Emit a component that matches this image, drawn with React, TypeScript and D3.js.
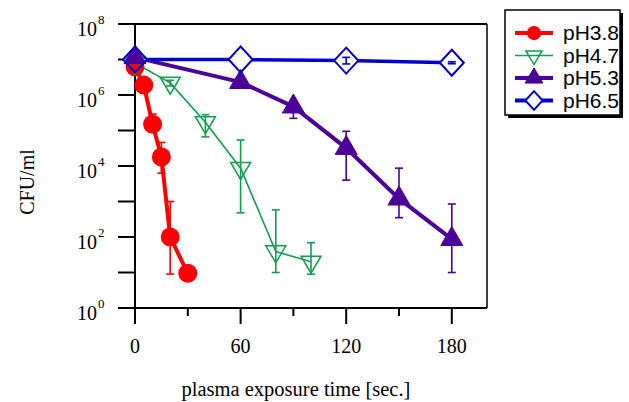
import React from "react";
import * as d3 from "d3";

const W = 629;
const H = 402;

// Data (time in seconds, CFU/ml)
const tRed = [0, 5, 10, 15, 20, 30];
const vRed = [6.2e6, 1.9e6, 1.5e5, 1.8e4, 1.0e2, 9.5];
const hiRed = [null, null, 2.9e5, 4.6e4, 1.0e3, null];
const loRed = [null, null, 1.0e5, 6.3e3, 9, null];

const tGreen = [0, 20, 40, 60, 80, 100];
const vGreen = [8.0e6, 2.2e6, 1.7e5, 8.7e3, 39, 20];
const hiGreen = [null, 2.6e6, 2.8e5, 5.4e4, 5.8e2, 69];
const loGreen = [null, 1.8e6, 6.6e4, 4.8e2, 10, 9];

const tPurple = [0, 60, 90, 120, 150, 180];
const vPurple = [1.15e7, 2.3e6, 4.7e5, 3.2e4, 1.2e3, 87];
const hiPurple = [null, null, 5.5e5, 9.5e4, 8.7e3, 8.5e2];
const loPurple = [null, null, 2.2e5, 4.0e3, 3.5e2, 10];

const tBlue = [0, 60, 120, 180];
const vBlue = [1.0e7, 1.0e7, 9.3e6, 8.1e6];
const hiBlue = [null, null, 1.15e7, 8.6e6];
const loBlue = [null, null, 7.5e6, 7.6e6];

const seriesNames = ["pH3.8", "pH4.7", "pH5.3", "pH6.5"];
const xMajorTicks = [0, 60, 120, 180];
const xMinorTicks = [30, 90, 150];
const yExponents = [0, 1, 2, 3, 4, 5, 6, 7, 8];
const yLabelExponents = [0, 2, 4, 6, 8];

const RED = "#ff0000";
const GREEN = "#119f4f";
const PURPLE = "#4b0099";
const BLUE = "#0000cc";

const left = 135, right = 487, top = 24, bottom = 308;
const x = d3.scaleLinear().domain([0, 200]).range([left, right]);
const y = d3.scaleLog().domain([1, 1e8]).range([bottom, top]);

type S = { name: string; t: number[]; v: number[]; hi: (number | null)[]; lo: (number | null)[]; color: string; lw: number; marker: string };

const series: S[] = [
  { name: seriesNames[0], t: tRed, v: vRed, hi: hiRed, lo: loRed, color: RED, lw: 4, marker: "circle" },
  { name: seriesNames[1], t: tGreen, v: vGreen, hi: hiGreen, lo: loGreen, color: GREEN, lw: 1.6, marker: "down" },
  { name: seriesNames[2], t: tPurple, v: vPurple, hi: hiPurple, lo: loPurple, color: PURPLE, lw: 4, marker: "up" },
  { name: seriesNames[3], t: tBlue, v: vBlue, hi: hiBlue, lo: loBlue, color: BLUE, lw: 3.5, marker: "diamond" },
];

function Marker({ kind, cx, cy, color, scale = 1, part = "all" }: { kind: string; cx: number; cy: number; color: string; scale?: number; part?: string }) {
  if (kind === "circle") {
    return <circle cx={cx} cy={cy} r={9.5 * scale} fill={color} />;
  }
  if (kind === "down") {
    const w = 10 * scale, h = 17 * scale;
    const pts = `${cx - w},${cy - h / 3} ${cx + w},${cy - h / 3} ${cx},${cy + (2 * h) / 3}`;
    return <polygon points={pts} fill="none" stroke={color} strokeWidth={1.5} />;
  }
  if (kind === "up") {
    const w = 11 * scale, h = 19 * scale;
    const pts = `${cx - w},${cy + h / 3} ${cx + w},${cy + h / 3} ${cx},${cy - (2 * h) / 3}`;
    return <polygon points={pts} fill={color} stroke={color} strokeWidth={1} />;
  }
  const w = 12 * scale, h = 13 * scale;
  const pts = `${cx},${cy - h} ${cx + w},${cy} ${cx},${cy + h} ${cx - w},${cy}`;
  if (part === "fill") return <polygon points={pts} fill="#fff" stroke="none" />;
  if (part === "stroke") return <polygon points={pts} fill="none" stroke={color} strokeWidth={2} />;
  return <polygon points={pts} fill="#fff" stroke={color} strokeWidth={2} />;
}

export default function App() {
  const line = d3.line<[number, number]>().x((d) => x(d[0])).y((d) => y(d[1]));
  const serif = "'Liberation Serif', 'Times New Roman', serif";
  const sans = "'Liberation Sans', Arial, sans-serif";
  const blue = series[3];
  return (
    <svg width={W} height={H} style={{ position: "absolute", left: 0, top: 0, background: "#fff" }}>
      <rect x={0} y={0} width={W} height={H} fill="#fff" />
      {/* frame */}
      <line x1={left} y1={top} x2={right} y2={top} stroke="#000" strokeWidth={2} />
      <line x1={right} y1={top} x2={right} y2={bottom} stroke="#000" strokeWidth={1.5} />
      <line x1={left} y1={bottom} x2={right} y2={bottom} stroke="#000" strokeWidth={2} />
      <line x1={left} y1={top} x2={left} y2={bottom + 16} stroke="#000" strokeWidth={2} />
      {/* y ticks */}
      {yExponents.map((e) => (
        <line key={e} x1={left - 17} x2={left} y1={y(Math.pow(10, e))} y2={y(Math.pow(10, e))} stroke="#000" strokeWidth={2} />
      ))}
      {yLabelExponents.map((e) => (
        <text key={e} x={77} y={y(Math.pow(10, e)) + 12} fontFamily={serif} fontSize={20} fill="#000">
          10<tspan fontSize={13} dy={-12} dx={1}>{e}</tspan>
        </text>
      ))}
      {/* x ticks */}
      {xMajorTicks.map((t) => (
        <line key={t} x1={x(t)} x2={x(t)} y1={bottom} y2={bottom + 16} stroke="#000" strokeWidth={2} />
      ))}
      {xMinorTicks.map((t) => (
        <line key={t} x1={x(t)} x2={x(t)} y1={bottom} y2={bottom + 8} stroke="#000" strokeWidth={2} />
      ))}
      {xMajorTicks.map((t) => (
        <text key={t} x={x(t)} y={353} textAnchor="middle" fontFamily={serif} fontSize={20} fill="#000">{t}</text>
      ))}
      <text x={296} y={396} textAnchor="middle" fontFamily={serif} fontSize={20.5} fill="#000">plasma exposure time [sec.]</text>
      <text transform="translate(34,182) rotate(-90)" textAnchor="middle" fontFamily={serif} fontSize={20} fill="#000">CFU/ml</text>

      {/* lines */}
      {series.map((s) => (
        <path key={s.name} d={line(s.t.map((t, i) => [t, s.v[i]] as [number, number])) || ""} fill="none" stroke={s.color} strokeWidth={s.lw} strokeLinejoin="round" />
      ))}
      {/* blue diamond fills */}
      {blue.t.map((t, i) => (
        <Marker key={"bf" + i} kind="diamond" cx={x(t)} cy={y(blue.v[i])} color={blue.color} part="fill" />
      ))}
      {series.slice(0, 3).map((s) =>
        s.t.map((t, i) => <Marker key={s.name + i} kind={s.marker} cx={x(t)} cy={y(s.v[i])} color={s.color} />)
      )}
      {blue.t.map((t, i) => (
        <Marker key={"bs" + i} kind="diamond" cx={x(t)} cy={y(blue.v[i])} color={blue.color} part="stroke" />
      ))}
      {/* error bars */}
      {series.map((s) =>
        s.t.map((t, i) => {
          const hi = s.hi[i];
          const lo = s.lo[i];
          if (hi == null || lo == null) return null;
          const cx = x(t);
          return (
            <g key={s.name + "e" + i} stroke={s.color} strokeWidth={1.6}>
              <line x1={cx} x2={cx} y1={y(hi)} y2={y(lo)} />
              <line x1={cx - 4} x2={cx + 4} y1={y(hi)} y2={y(hi)} />
              <line x1={cx - 4} x2={cx + 4} y1={y(lo)} y2={y(lo)} />
            </g>
          );
        })
      )}

      {/* legend */}
      <rect x={508} y={13} width={115} height={105} fill="#000" />
      <rect x={505} y={10} width={115} height={105} fill="#fff" stroke="#000" strokeWidth={1.5} />
      {series.map((s, i) => {
        const ly = 33 + i * 22.5;
        return (
          <g key={"lg" + s.name}>
            <line x1={515} x2={553} y1={ly} y2={ly} stroke={s.color} strokeWidth={s.marker === "down" ? 1.6 : 4} />
            {s.marker === "diamond" ? (
              <Marker kind="diamond" cx={534} cy={ly} color={s.color} scale={0.72} />
            ) : (
              <Marker kind={s.marker} cx={534} cy={ly} color={s.color} scale={s.marker === "circle" ? 0.75 : 0.8} />
            )}
            <text x={563} y={ly + 7} fontFamily={sans} fontSize={21} fill="#000">{s.name}</text>
          </g>
        );
      })}
    </svg>
  );
}
